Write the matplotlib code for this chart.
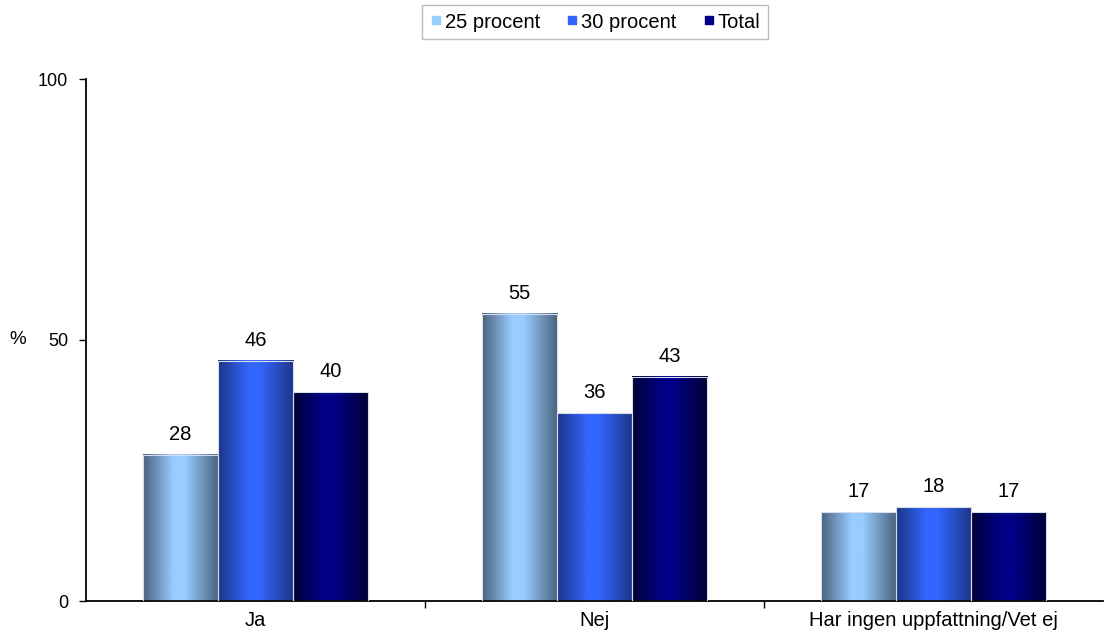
import numpy as np
import matplotlib
matplotlib.use("Agg")
import matplotlib.pyplot as plt
from matplotlib.colors import LinearSegmentedColormap
from matplotlib.lines import Line2D

plt.rcParams['font.family'] = ['Liberation Sans', 'DejaVu Sans']

categories = ["Ja", "Nej", "Har ingen uppfattning/Vet ej"]
series_names = ["25 procent", "30 procent", "Total"]
v25 = [28, 55, 17]
v30 = [46, 36, 18]
vtot = [40, 43, 17]
yticks = [0, 50, 100]

series_vals = [v25, v30, vtot]
edge_cols = ["#48627d", "#1c3588", "#000035"]
mid_cols = ["#99ccff", "#3366ff", "#000086"]

fig = plt.figure(figsize=(11.04, 6.39), dpi=100)
ax = fig.add_axes([86/1104, 38/639, (1103-86)/1104, 522/639])

x = np.arange(len(categories))
bw = 0.222
offsets = [-bw, 0, bw]
grad = np.linspace(0, 1, 256)[None, :]
for i, vals in enumerate(series_vals):
    cmap = LinearSegmentedColormap.from_list(
        f"g{i}", [(0, edge_cols[i]), (0.4, mid_cols[i]), (0.55, mid_cols[i]), (1, edge_cols[i])])
    bars = ax.bar(x + offsets[i], vals, width=bw, facecolor='none',
                  edgecolor='#d8dce8', linewidth=0.8, zorder=3)
    for b, v in zip(bars, vals):
        x0, w, h = b.get_x(), b.get_width(), b.get_height()
        ax.imshow(grad, extent=[x0, x0 + w, 0, h], aspect='auto', cmap=cmap,
                  zorder=2, interpolation='bilinear')
        ax.text(x0 + w / 2, h + 2.1, f"{v}", ha='center', va='bottom', fontsize=14.5)

ax.set_xlim(-0.5, 2.5)
ax.set_ylim(0, 100)
ax.set_yticks(yticks)
ax.set_yticklabels([str(t) for t in yticks], fontsize=13)
ax.set_xticks(x)
ax.set_xticklabels(categories, fontsize=14.5)
ax.set_xticks([0.5, 1.5], minor=True)
ax.tick_params(axis='x', which='major', length=0, pad=7)
ax.tick_params(axis='x', which='minor', length=5, width=1, direction='out')
ax.tick_params(axis='y', length=5, width=1, direction='out', pad=8)
for s in ['top', 'right']:
    ax.spines[s].set_visible(False)
for s in ['left', 'bottom']:
    ax.spines[s].set_linewidth(1.3)
    ax.spines[s].set_color('black')

fig.text(18/1104, 1 - 340/639, "%", fontsize=13.5, ha='center', va='center')

handles = [Line2D([], [], linestyle='none', marker='s', markersize=6,
                  markerfacecolor=mid_cols[i], markeredgecolor=mid_cols[i])
           for i in range(3)]
leg = fig.legend(handles, series_names, loc='center', bbox_to_anchor=(595/1104, 1 - 22/639),
                 ncol=3, fontsize=14.5, frameon=True, fancybox=False, handlelength=0.6,
                 handletextpad=0.15, columnspacing=1.3, borderpad=0.35)
leg.get_frame().set_edgecolor('#aaaaaa')
leg.get_frame().set_linewidth(1.0)

fig.savefig("out.png", dpi=100)
